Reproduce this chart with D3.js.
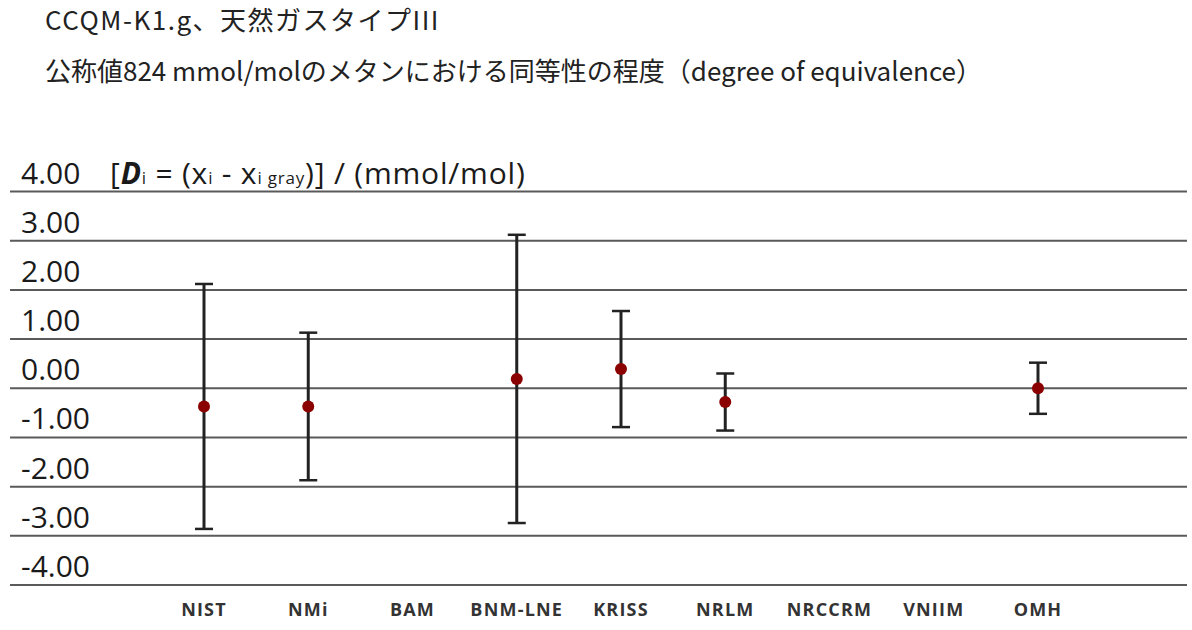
<!DOCTYPE html>
<html>
<head>
<meta charset="utf-8">
<script src="https://cdn.jsdelivr.net/npm/d3@7"></script>
<style>
  body { margin: 0; background: #fff; }
  svg { display: block; }
  .title { font-family: "Noto Sans CJK JP", sans-serif; fill: #222; }
  .tick-label { font-family: "Open Sans", sans-serif; font-size: 30px; fill: #1a1a1a; }
  .cat-label { font-family: "Open Sans", sans-serif; font-size: 18px; font-weight: bold; fill: #333; letter-spacing: 1.2px; }
</style>
</head>
<body>
<script>
// Participants (x axis), in reading order
var labs = ["NIST", "NMi", "BAM", "BNM-LNE", "KRISS", "NRLM", "NRCCRM", "VNIIM", "OMH"];
// Di in mmol/mol (null = no result plotted)
var degEq = [-0.37, -0.37, null, 0.19, 0.39, -0.28, null, null, 0.00];
// expanded uncertainty Ui
var uncert = [2.49, 1.50, null, 2.93, 1.18, 0.58, null, null, 0.52];
var yTicks = [4, 3, 2, 1, 0, -1, -2, -3, -4];

var W = 1192, H = 630;

var svg = d3.select("body").append("svg")
    .attr("width", W)
    .attr("height", H);

var x = d3.scalePoint().domain(labs).range([204, 1038]);
var y = d3.scaleLinear().domain([-4, 4]).range([585, 191.5]);

// hyphen instead of unicode minus, like the original
var fmt = d3.formatLocale({decimal: ".", thousands: ",", grouping: [3], currency: ["", ""], minus: "-"}).format(".2f");

// titles
svg.append("text").attr("class", "title")
    .attr("x", 45).attr("y", 30)
    .style("font-size", "26px")
    .style("letter-spacing", "1.5px")
    .text("CCQM-K1.g、天然ガスタイプIII");
svg.append("text").attr("class", "title")
    .attr("x", 45).attr("y", 81)
    .style("font-size", "26px")
    .text("公称値824 mmol/molのメタンにおける同等性の程度（degree of equivalence）");

// horizontal grid lines + labels
var grid = svg.append("g").attr("class", "grid");
grid.selectAll("line")
    .data(yTicks)
    .enter()
    .append("line")
    .attr("x1", 10)
    .attr("x2", 1187)
    .attr("y1", function(d) { return y(d); })
    .attr("y2", function(d) { return y(d); })
    .attr("stroke", "#5a5a5a")
    .attr("stroke-width", 2);

grid.selectAll("text")
    .data(yTicks)
    .enter()
    .append("text")
    .attr("class", "tick-label")
    .attr("x", 21)
    .attr("y", function(d) { return y(d) - 8; })
    .text(function(d) { return fmt(d); });

// y axis title  [Di = (xi - xi gray)] / (mmol/mol)
var yt = svg.append("text")
    .attr("class", "tick-label")
    .attr("x", 110)
    .attr("y", y(4) - 8)
    .style("font-size", "30px")
    .style("letter-spacing", "0.8px");
yt.append("tspan").text("[");
yt.append("tspan").text("D").style("font-weight", "bold").style("font-style", "italic");
yt.append("tspan").text("i").style("font-size", "17px");
yt.append("tspan").text(" = (x");
yt.append("tspan").text("i").style("font-size", "17px");
yt.append("tspan").text(" - x");
yt.append("tspan").text("i gray").style("font-size", "17px");
yt.append("tspan").text(")] / (mmol/mol)");

// error bars
var pts = labs.map(function(l, i) {
    return {lab: l, v: degEq[i], u: uncert[i]};
}).filter(function(d) { return d.v !== null; });

var bars = svg.append("g").attr("class", "bars");
var capW = 9;

bars.selectAll("line.stem")
    .data(pts)
    .enter()
    .append("line")
    .attr("class", "stem")
    .attr("x1", function(d) { return x(d.lab); })
    .attr("x2", function(d) { return x(d.lab); })
    .attr("y1", function(d) { return y(d.v + d.u); })
    .attr("y2", function(d) { return y(d.v - d.u); })
    .attr("stroke", "#222")
    .attr("stroke-width", 3);

[1, -1].forEach(function(sgn) {
    bars.selectAll("line.cap" + (sgn > 0 ? "hi" : "lo"))
        .data(pts)
        .enter()
        .append("line")
        .attr("x1", function(d) { return x(d.lab) - capW; })
        .attr("x2", function(d) { return x(d.lab) + capW; })
        .attr("y1", function(d) { return y(d.v + sgn * d.u); })
        .attr("y2", function(d) { return y(d.v + sgn * d.u); })
        .attr("stroke", "#222")
        .attr("stroke-width", 2.5);
});

bars.selectAll("circle")
    .data(pts)
    .enter()
    .append("circle")
    .attr("cx", function(d) { return x(d.lab); })
    .attr("cy", function(d) { return y(d.v); })
    .attr("r", 6)
    .attr("fill", "#8b0000");

// category labels
svg.append("g").selectAll("text")
    .data(labs)
    .enter()
    .append("text")
    .attr("class", "cat-label")
    .attr("x", function(d) { return x(d); })
    .attr("y", 616)
    .attr("text-anchor", "middle")
    .text(function(d) { return d; });
</script>
</body>
</html>
